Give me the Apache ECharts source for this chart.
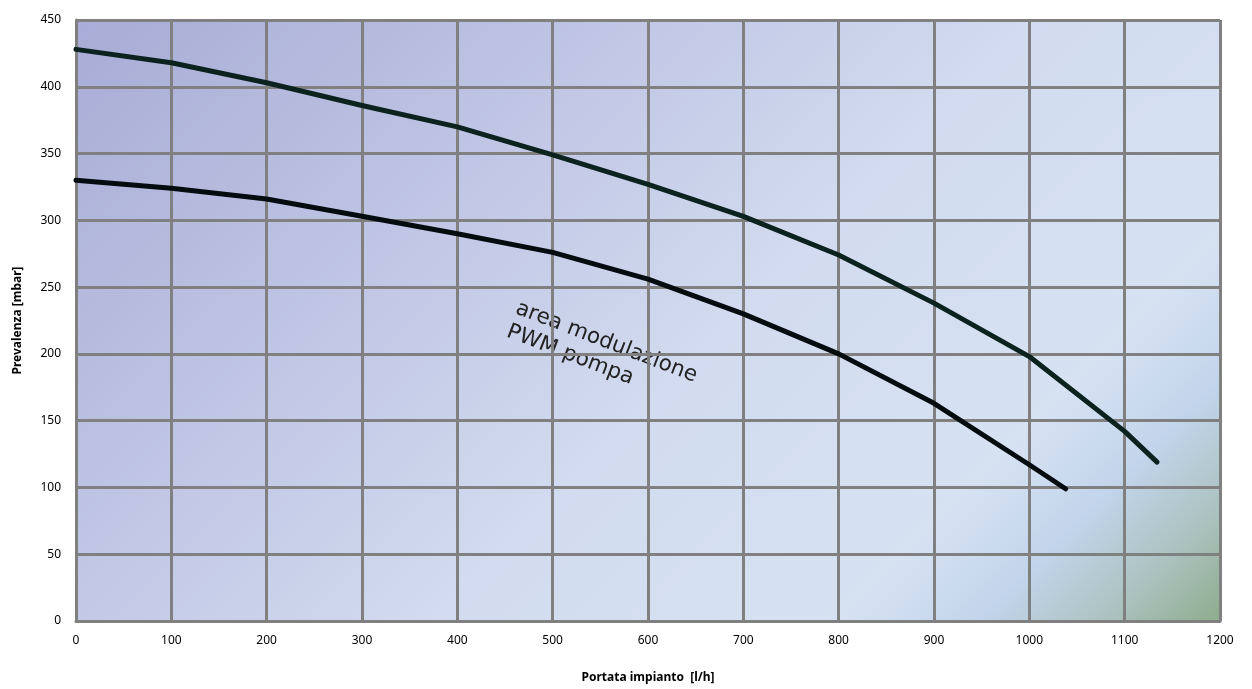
<!DOCTYPE html>
<html>
<head>
<meta charset="utf-8">
<script src="https://cdn.jsdelivr.net/npm/echarts@6/dist/echarts.min.js"></script>
<style>html,body{margin:0;padding:0;background:#fff}#c{width:1252px;height:689px}</style>
</head>
<body>
<div id="c"></div>
<script>
const upperFlow = [0, 100, 200, 300, 400, 500, 600, 700, 800, 900, 1000, 1100, 1134];
const upperHead = [428, 418, 403, 386, 370, 349, 327, 303, 274, 238, 198, 142, 119];
const lowerFlow = [0, 100, 200, 300, 400, 500, 600, 700, 800, 900, 1000, 1038];
const lowerHead = [330, 324, 316, 303, 290, 276, 256, 230, 200, 163, 117, 99];
const xTitle = 'Portata impianto  [l/h]';
const yTitle = 'Prevalenza [mbar]';
const noteText = 'area modulazione\nPWM pompa';

const chart = echarts.init(document.getElementById('c'));
const font = 'Noto Sans';
const bg = new echarts.graphic.LinearGradient(76, 20, 949, 893, [
  {offset: 0, color: '#a8acd6'},
  {offset: 0.35, color: '#c3c9e6'},
  {offset: 0.55, color: '#d2dbef'},
  {offset: 0.78, color: '#d6e2f2'},
  {offset: 0.86, color: '#c3d5ec'},
  {offset: 0.93, color: '#adc3c2'},
  {offset: 1, color: '#8eac8c'}
], true);
chart.setOption({
  animation: false,
  textStyle: {fontFamily: font},
  grid: {left: 76, right: 32, top: 20, bottom: 67, show: true, backgroundColor: bg, borderWidth: 0},
  xAxis: {
    type: 'value', min: 0, max: 1200, interval: 100,
    name: xTitle, nameLocation: 'middle', nameGap: 51,
    nameTextStyle: {fontFamily: font, fontWeight: 'bold', fontSize: 12, color: '#000'},
    axisLine: {show: true, lineStyle: {color: '#808080', width: 3}},
    axisTick: {show: false},
    axisLabel: {color: '#000', fontSize: 12, margin: 14, formatter: v => String(v)},
    splitLine: {show: true, lineStyle: {color: '#808080', width: 3}}
  },
  yAxis: {
    type: 'value', min: 0, max: 450, interval: 50,
    name: yTitle, nameLocation: 'middle', nameGap: 52,
    nameTextStyle: {fontFamily: font, fontWeight: 'bold', fontSize: 12, color: '#000'},
    axisLine: {show: true, lineStyle: {color: '#808080', width: 3}},
    axisTick: {show: false},
    axisLabel: {color: '#000', fontSize: 12, margin: 15, formatter: v => String(v)},
    splitLine: {show: true, lineStyle: {color: '#808080', width: 3}}
  },
  series: [
    {type: 'line', data: upperFlow.map((x, i) => [x, upperHead[i]]), showSymbol: false, smooth: false,
     lineStyle: {color: '#0c221e', width: 5, cap: 'round', join: 'round'}},
    {type: 'line', data: lowerFlow.map((x, i) => [x, lowerHead[i]]), showSymbol: false, smooth: false,
     lineStyle: {color: '#050c10', width: 5, cap: 'round', join: 'round'}}
  ],
  graphic: [{
    type: 'text', x: 521, y: 296, rotation: -21 * Math.PI / 180,
    style: {text: noteText, font: '21.5px "DejaVu Sans"', fill: '#222', align: 'left', verticalAlign: 'top', lineHeight: 25}
  }]
});
</script>
</body>
</html>
